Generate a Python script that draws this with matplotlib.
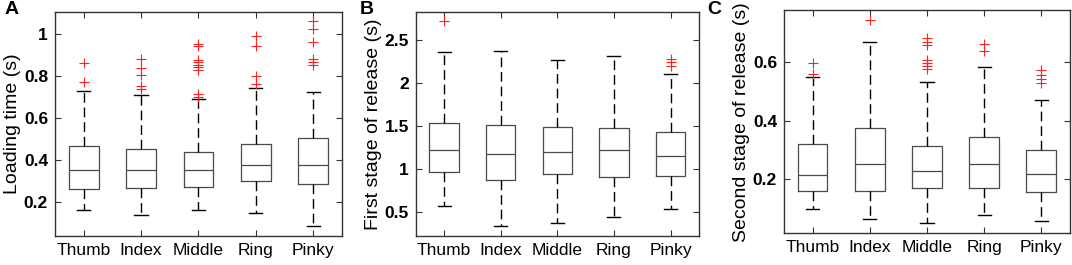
import matplotlib.pyplot as plt
from matplotlib.ticker import FormatStrFormatter

plt.rcParams['font.family'] = ['Liberation Sans', 'DejaVu Sans']

fingers = ['Thumb', 'Index', 'Middle', 'Ring', 'Pinky']

# panel A: loading time (s)
a_q1 = [0.265, 0.269, 0.272, 0.301, 0.289]
a_med = [0.352, 0.355, 0.355, 0.379, 0.376]
a_q3 = [0.468, 0.452, 0.441, 0.479, 0.507]
a_lo = [0.166, 0.141, 0.166, 0.152, 0.087]
a_hi = [0.729, 0.709, 0.689, 0.744, 0.724]
a_out = [[0.864, 0.772],
         [0.880, 0.837, 0.804, 0.754, 0.740],
         [0.952, 0.941, 0.875, 0.867, 0.851, 0.843, 0.828, 0.713, 0.701],
         [0.989, 0.944, 0.800, 0.764],
         [1.062, 1.024, 0.962, 0.880, 0.869, 0.853]]

# panel B: first stage of release (s)
b_q1 = [0.964, 0.878, 0.941, 0.902, 0.917]
b_med = [1.217, 1.171, 1.194, 1.217, 1.151]
b_q3 = [1.537, 1.506, 1.486, 1.475, 1.424]
b_lo = [0.570, 0.336, 0.379, 0.438, 0.535]
b_hi = [2.360, 2.371, 2.262, 2.313, 2.102]
b_out = [[2.714], [], [], [], [2.274, 2.235, 2.196]]

# panel C: second stage of release (s)
c_q1 = [0.161, 0.161, 0.169, 0.172, 0.156]
c_med = [0.216, 0.253, 0.227, 0.251, 0.219]
c_q3 = [0.319, 0.374, 0.315, 0.343, 0.301]
c_lo = [0.098, 0.065, 0.051, 0.080, 0.057]
c_hi = [0.548, 0.668, 0.531, 0.583, 0.469]
c_out = [[0.598, 0.559],
         [0.743],
         [0.683, 0.669, 0.656, 0.607, 0.598, 0.586, 0.575],
         [0.661, 0.636],
         [0.572, 0.557, 0.542, 0.527]]

panels = [
    ('A', 'Loading time (s)', (a_q1, a_med, a_q3, a_lo, a_hi, a_out),
     (0.042, 1.104), [0.2, 0.4, 0.6, 0.8, 1.0]),
    ('B', 'First stage of release (s)', (b_q1, b_med, b_q3, b_lo, b_hi, b_out),
     (0.227, 2.82), [0.5, 1.0, 1.5, 2.0, 2.5]),
    ('C', 'Second stage of release (s)', (c_q1, c_med, c_q3, c_lo, c_hi, c_out),
     (0.016, 0.777), [0.2, 0.4, 0.6]),
]
positions = [
    [0.0513, 0.1106, 0.2677, 0.8441],
    [0.3878, 0.1106, 0.2642, 0.8441],
    [0.7313, 0.1196, 0.2668, 0.8427],
]
letter_x = [0.004, 0.336, 0.660]

fig = plt.figure(figsize=(10.72, 2.65), dpi=100)
for (letter, ylabel, data, ylim, yticks), pos, lx in zip(panels, positions, letter_x):
    ax = fig.add_axes(pos)
    q1, med, q3, lo, hi, out = data
    stats = []
    for i, name in enumerate(fingers):
        stats.append(dict(label=name, q1=q1[i], med=med[i], q3=q3[i],
                          whislo=lo[i], whishi=hi[i], fliers=out[i]))
    ax.bxp(stats, widths=0.52, capwidths=0.23, showfliers=True,
           boxprops=dict(color='#4a4a4a', lw=0.9),
           medianprops=dict(color='#4a4a4a', lw=0.9),
           whiskerprops=dict(color='black', lw=1.0, linestyle=(0, (7, 3.5))),
           capprops=dict(color='black', lw=1.0),
           flierprops=dict(marker='+', markeredgecolor='#ff2020', markersize=7,
                           markeredgewidth=0.8, linestyle='none'))
    ax.set_xlim(0.5, 5.5)
    ax.set_ylim(*ylim)
    ax.set_yticks(yticks)
    ax.yaxis.set_major_formatter(FormatStrFormatter('%g'))
    ax.set_ylabel(ylabel, fontsize=14, labelpad=2)
    ax.tick_params(direction='in', length=4, width=0.8, color='#333333',
                   top=True, right=True, pad=5)
    ax.tick_params(axis='x', labelsize=12.5)
    ax.tick_params(axis='y', labelsize=12.5)
    for lab in ax.get_yticklabels():
        lab.set_fontweight('bold')
    for sp in ax.spines.values():
        sp.set_color('#333333')
        sp.set_linewidth(1.0)
    fig.text(lx, 0.995, letter, fontsize=14, fontweight='bold', va='top', ha='left')

fig.savefig('out.png', dpi=100)
